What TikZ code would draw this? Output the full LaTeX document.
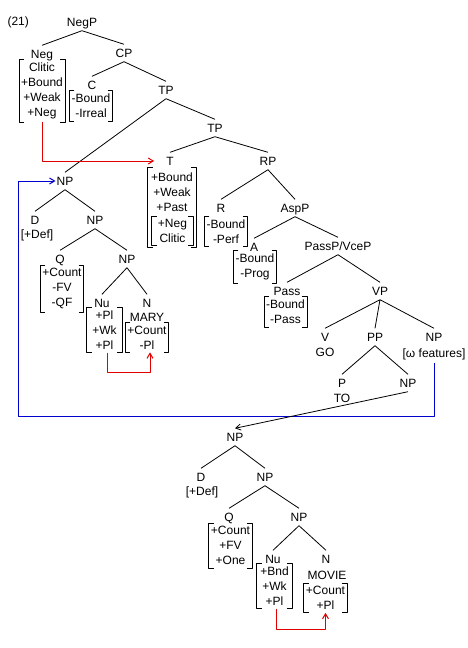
\documentclass[tikz,border=0pt]{standalone}
\usepackage{fontspec}
\setmainfont{Liberation Sans}
\usetikzlibrary{arrows.meta,fit}
\definecolor{arrred}{RGB}{225,0,0}
\definecolor{arrblue}{RGB}{0,0,210}
% square brackets round a feature list
\newcommand{\featbrk}[1]{%
  \draw[line width=0.8pt] ([xshift=5]#1.north west) -- (#1.north west) -- (#1.south west) -- ([xshift=5]#1.south west);
  \draw[line width=0.8pt] ([xshift=-5]#1.north east) -- (#1.north east) -- (#1.south east) -- ([xshift=-5]#1.south east);}

\begin{document}
\begin{tikzpicture}[x=1pt,y=-1pt,line join=round,font=\fontsize{12}{15}\selectfont,
  lab/.style={text height=9pt,text depth=0pt,inner xsep=1pt,inner ysep=4pt},
  feat/.style={align=center,inner xsep=2pt,inner ysep=3pt},
  edge/.style={line width=0.8pt},
  movarr/.style={line width=1pt,-{Straight Barb[length=5pt,width=6pt]}}]
  \fill[white] (0,0) rectangle (468,648);
  \useasboundingbox (0,0) rectangle (468,648);

  \node[anchor=west] (ex) at (4,22) {(21)};
  \node[lab] (negp) at (82,22) {NegP};
  \node[lab] (neg) at (42,54) {Neg};
  \node[feat] (negf) at (42,91) {Clitic\\+Bound\\+Weak\\+Neg};
  \node[lab] (cp) at (124,53) {CP};
  \node[lab] (c) at (92,85) {C};
  \node[feat] (cf) at (91,106) {-Bound\\-Irreal};
  \node[lab] (tp1) at (166,90) {TP};
  \node[lab] (tp2) at (215,128) {TP};
  \node[lab] (t) at (170,161) {T};
  \node[feat] (tf1) at (172,192) {+Bound\\+Weak\\+Past};
  \node[feat,minimum width=41pt] (tf2) at (172.5,231) {+Neg\\Clitic};
  \node[fit=(tf1)(tf2),inner xsep=1pt,inner ysep=1.5pt] (tf) {};
  \node[lab] (rp) at (268,161) {RP};
  \node[lab] (r) at (221,208) {R};
  \node[feat] (rf) at (226,231.5) {-Bound\\-Perf};
  \node[lab] (aspp) at (295,208) {AspP};
  \node[lab] (a) at (254,247) {A};
  \node[feat] (af) at (255,267) {-Bound\\-Prog};
  \node[lab] (passp) at (338,246) {PassP/VceP};
  \node[lab] (pass) at (287,291) {Pass};
  \node[feat] (passf) at (285.5,312) {-Bound\\-Pass};
  \node[lab] (vp) at (380,291) {VP};
  \node[lab] (v) at (325,337) {V};
  \node (go) at (325,352) {GO};
  \node[lab] (pp) at (375,337) {PP};
  \node[lab] (npo) at (434,337) {NP};
  \node (omf) at (434,354) {[ω features]};
  \node[lab] (p) at (342,383) {P};
  \node (to) at (342,398) {TO};
  \node[lab] (npto) at (408,383) {NP};

  % moved subject
  \node[lab] (np1) at (65,181) {NP};
  \node[lab] (d1) at (35,220) {D};
  \node (def1) at (37,235) {[+Def]};
  \node[lab] (np2) at (95,220) {NP};
  \node[lab] (q1) at (60,259) {Q};
  \node[feat] (q1f) at (62,288.5) {+Count\\-FV\\-QF};
  \node[lab] (np3) at (127,259) {NP};
  \node[lab] (nu1) at (102,303) {Nu};
  \node[feat,minimum width=35pt] (nu1f) at (104.5,330) {+Pl\\+Wk\\+Pl};
  \node[lab] (n1) at (147,303) {N};
  \node (mary) at (147,317) {MARY};
  \node[feat] (n1f) at (147,337.5) {+Count\\-Pl};

  % object of TO
  \node[lab] (npb1) at (235,437) {NP};
  \node[lab] (d2) at (201,477) {D};
  \node (def2) at (202,492) {[+Def]};
  \node[lab] (npb2) at (265,477) {NP};
  \node[lab] (q2) at (229,517) {Q};
  \node[feat] (q2f) at (230.5,545.5) {+Count\\+FV\\+One};
  \node[lab] (npb3) at (299,517) {NP};
  \node[lab] (nu2) at (273,559) {Nu};
  \node[feat,minimum width=35pt] (nu2f) at (274.5,586) {+Bnd\\+Wk\\+Pl};
  \node[lab] (n2) at (326,559) {N};
  \node (movie) at (327,575) {MOVIE};
  \node[feat] (n2f) at (325.5,598) {+Count\\+Pl};

  \foreach \f in {negf,cf,tf,tf2,rf,af,passf,q1f,nu1f,n1f,q2f,nu2f,n2f} {\featbrk{\f}}

  \draw[edge] (negp.south) -- (neg.north) (negp.south) -- (cp.north)
    (cp.south) -- (c.north) (cp.south) -- (tp1.north)
    (tp1.south) -- (np1.north) (tp1.south) -- (tp2.north)
    (tp2.south) -- (t.north) (tp2.south) -- (rp.north)
    (rp.south) -- (r.north) (rp.south) -- (aspp.north)
    (aspp.south) -- (a.north) (aspp.south) -- (passp.north)
    (passp.south) -- (pass.north) (passp.south) -- (vp.north)
    (vp.south) -- (v.north) (vp.south) -- (pp.north) (vp.south) -- (npo.north)
    (pp.south) -- (p.north) (pp.south) -- (npto.north);
  \draw[edge] (np1.south) -- (d1.north) (np1.south) -- (np2.north)
    (np2.south) -- (q1.north) (np2.south) -- (np3.north)
    (np3.south) -- (nu1.north) (np3.south) -- (n1.north);
  \draw[edge] (npb1.south) -- (d2.north) (npb1.south) -- (npb2.north)
    (npb2.south) -- (q2.north) (npb2.south) -- (npb3.north)
    (npb3.south) -- (nu2.north) (npb3.south) -- (n2.north);

  % movement arrows
  \draw[movarr,arrred,shorten >=11pt] (negf.south) |- (t.west);
  \draw[movarr,arrred] ([xshift=3]nu1f.south) -- ++(0,20) -| ([xshift=3]n1f.south);
  \draw[movarr,arrred] ([xshift=2]nu2f.south) -- ++(0,21) -| (n2f.south);
  \coordinate (blc) at (18,416);
  \draw[movarr,arrblue] (omf.south) |- (blc) |- (np1.west);
  \draw[movarr,line width=0.8pt] (npto.south) -- (npb1.north);
\end{tikzpicture}
\end{document}
